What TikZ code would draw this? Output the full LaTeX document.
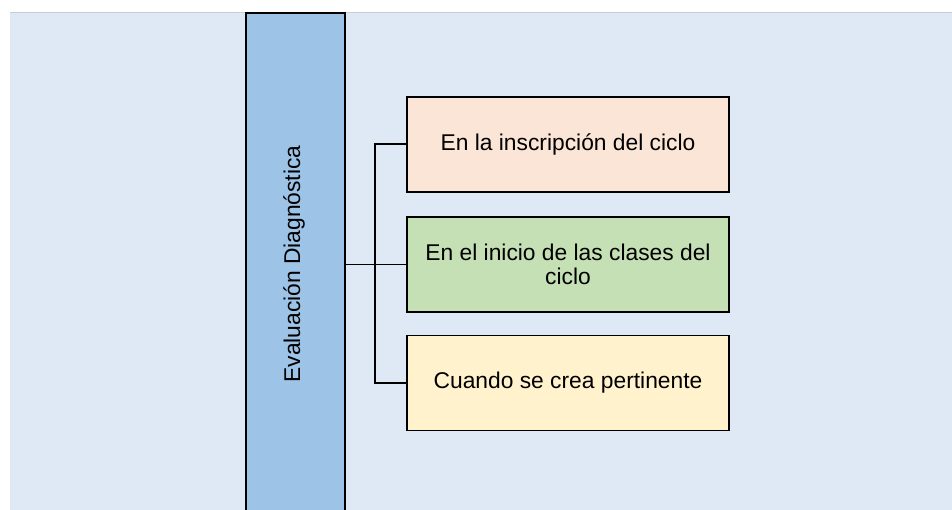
\documentclass[tikz,border=0pt]{standalone}
\usepackage{fontspec}
\setmainfont{Liberation Sans}
\definecolor{bg}{HTML}{DEE9F5}
\definecolor{colblue}{HTML}{9DC3E6}
\definecolor{peach}{HTML}{FBE5D6}
\definecolor{green}{HTML}{C5E0B4}
\definecolor{cream}{HTML}{FFF2CC}
\definecolor{topline}{HTML}{C5CDD6}
\begin{document}
\begin{tikzpicture}[x=1pt,y=-1pt,
  txt/.style={font=\fontsize{22.8}{24.5}\selectfont},
  box/.style={txt,draw=black,line width=1.8pt,minimum width=322pt,minimum height=95pt,
    inner sep=0pt,align=center},
  conn/.style={line width=1.8pt,draw=black}]
\useasboundingbox (0,0) rectangle (952,510);
\clip (0,0) rectangle (952,510);
\fill[white] (0,0) rectangle (952,510);
\fill[bg] (10,12) rectangle (952,510);
\draw[topline,line width=0.8pt] (10,12) -- (952,12);
\node[draw=black,fill=colblue,line width=1.8pt,minimum width=99pt,minimum height=520pt,
  anchor=north west,inner sep=0pt] (col) at (245,12) {};
\node[txt,rotate=90] (lbl) at (294,264) {Evaluación Diagnóstica};
\node[box,fill=peach] (b1) at (568,144.3) {En la inscripción del ciclo};
\node[box,fill=green] (b2) at (568,264.5) {En el inicio de las clases del\\ciclo};
\node[box,fill=cream] (b3) at (568,383) {Cuando se crea pertinente};
\coordinate (j) at (375,0);
\draw[conn] (col.east |- b2.west) -- (b2.west);
\draw[conn] (b1.west) -- (b1.west -| j) -- (b3.west -| j) -- (b3.west);
\end{tikzpicture}
\end{document}
